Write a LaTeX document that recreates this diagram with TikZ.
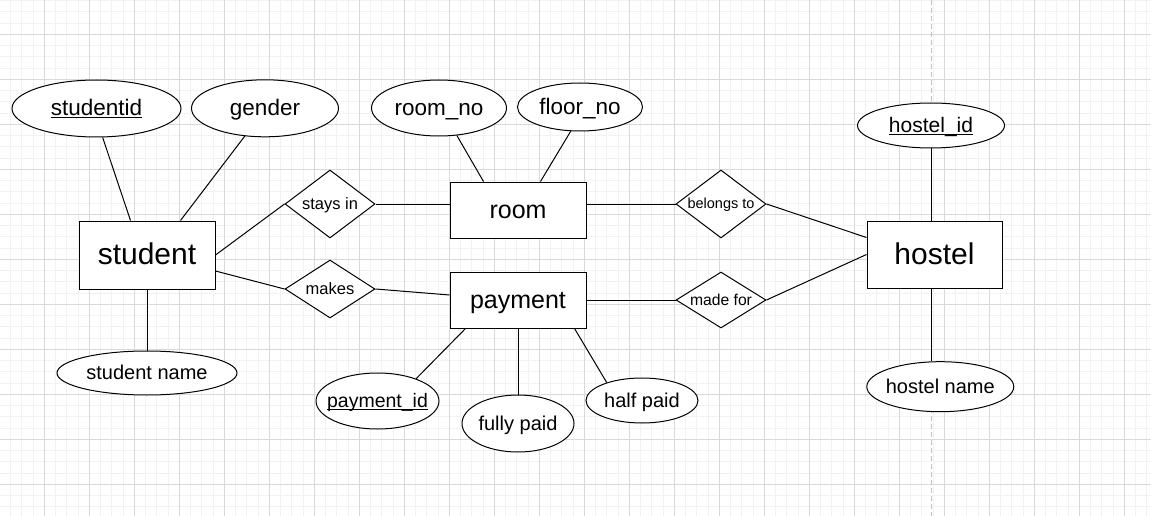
\documentclass[tikz,border=0pt]{standalone}
\usepackage{fontspec}
\setmainfont{Liberation Sans}
\usetikzlibrary{shapes.geometric}
\usetikzlibrary{calc}

\newcommand{\zw}[1]{\makebox[0pt]{\rule[-.1em]{0pt}{.85em}\smash{#1}}}
\newcommand{\pk}[1]{\underline{\smash{#1}}}

\begin{document}
\begin{tikzpicture}[x=1pt, y=-1pt, line width=1pt,
    fs/.style={font=\fontsize{#1}{#1}\selectfont},
    entity/.style={draw, fill=white, rectangle, inner sep=0pt, minimum width=136pt},
    attr/.style={draw, fill=white, ellipse, inner sep=0pt},
    rel/.style={draw, fill=white, diamond, inner sep=0pt, minimum width=90pt},
    minorgrid/.style={draw=black!5},
    majorgrid/.style={draw=black!15},
    pagebreak/.style={draw=black!25, dash pattern=on 5pt off 3pt}]

    \useasboundingbox (0,0) rectangle (1151,516);

    \begin{scope}
    \clip (0,0) rectangle (1151,516);
    \foreach \i in {0,...,102}
        \draw[minorgrid] ({-0.7+11.25*\i},0) -- ({-0.7+11.25*\i},516);
    \foreach \j in {1,...,46}
        \draw[minorgrid] (0,{-10.7+11.25*\j}) -- (1151,{-10.7+11.25*\j});
    \foreach \i in {1,...,25}
        \draw[majorgrid] ({-0.7+45*\i},0) -- ({-0.7+45*\i},516);
    \foreach \j in {1,...,11}
        \draw[majorgrid] (0,{-10.7+45*\j}) -- (1151,{-10.7+45*\j});
    \draw[pagebreak] (931,0) -- (931,516);
    \end{scope}

    \node[entity, fs=30, minimum height=68pt] (student) at (147,255) {\zw{student}};
    \node[entity, fs=25, minimum height=56pt] (room) at (518,210) {\zw{room}};
    \node[entity, fs=25, minimum height=56pt] (payment) at (518,300) {\zw{payment}};
    \node[entity, fs=30, minimum width=135pt, minimum height=67pt] (hostel) at (934.5,254.5) {\zw{hostel}};

    \node[rel, fs=16.5, minimum height=68pt] (stays) at (330,204) {\zw{stays in}};
    \node[rel, fs=16.5, minimum height=58pt] (makes) at (330,289) {\zw{makes}};
    \node[rel, fs=14.5, minimum height=68pt] (belongs) at (721,204) {\zw{belongs to}};
    \node[rel, fs=15.7, minimum height=56pt] (madefor) at (721,300) {\zw{made for}};

    \node[attr, fs=22.5, minimum width=169pt, minimum height=57pt] (sid) at (96.5,108.5) {\zw{\pk{studentid}}};
    \node[attr, fs=22.5, minimum width=147pt, minimum height=57pt] (gender) at (265,108.3) {\zw{gender}};
    \node[attr, fs=20, minimum width=180pt, minimum height=44pt] (sname) at (147,373) {\zw{student name}};
    \node[attr, fs=22.5, minimum width=135pt, minimum height=56pt] (roomno) at (439,108) {\zw{room\_no}};
    \node[attr, fs=22.5, minimum width=125pt, minimum height=48pt] (floorno) at (580,107) {\zw{floor\_no}};
    \node[attr, fs=21, minimum width=147pt, minimum height=45pt] (hid) at (931,125.5) {\zw{\pk{hostel\_id}}};
    \node[attr, fs=20, minimum width=147pt, minimum height=50pt] (hname) at (940.3,386.7) {\zw{hostel name}};
    \node[attr, fs=19.5, minimum width=123pt, minimum height=56pt] (pid) at (377.5,401) {\zw{\pk{payment\_id}}};
    \node[attr, fs=20, minimum width=112pt, minimum height=57pt] (fully) at (518,423.5) {\zw{fully paid}};
    \node[attr, fs=20, minimum width=112pt, minimum height=45pt] (half) at (642,400.5) {\zw{half paid}};

    \draw (sid.-78) -- ([xshift=52pt]student.north west);
    \draw (gender.-126) -- ([xshift=102pt]student.north west);
    \draw (student.south) -- (sname.north);
    \draw (student.east) -- (stays.west);
    \draw ([yshift=-16pt]student.east) -- (makes.west);
    \draw (stays.east) -- ([yshift=6pt]room.west);
    \draw (makes.east) -- ([yshift=5pt]payment.west);
    \draw (roomno.-57) -- ([xshift=34pt]room.north west);
    \draw (floorno.-111) -- ([xshift=91pt]room.north west);
    \draw ([yshift=6pt]room.east) -- (belongs.west);
    \draw (payment.east) -- (madefor.west);
    \draw (belongs.east) -- ([yshift=-17pt]hostel.north west);
    \draw (madefor.east) -- (hostel.west);
    \draw (hid.south) -- (hid.south |- hostel.north);
    \draw (hid.south |- hostel.south) -- (hid.south |- hname.north);
    \draw ([xshift=16pt]payment.south west) -- (pid.30);
    \draw (payment.south) -- (fully.north);
    \draw ([xshift=-12pt]payment.south east) -- (half.153);
\end{tikzpicture}
\end{document}
